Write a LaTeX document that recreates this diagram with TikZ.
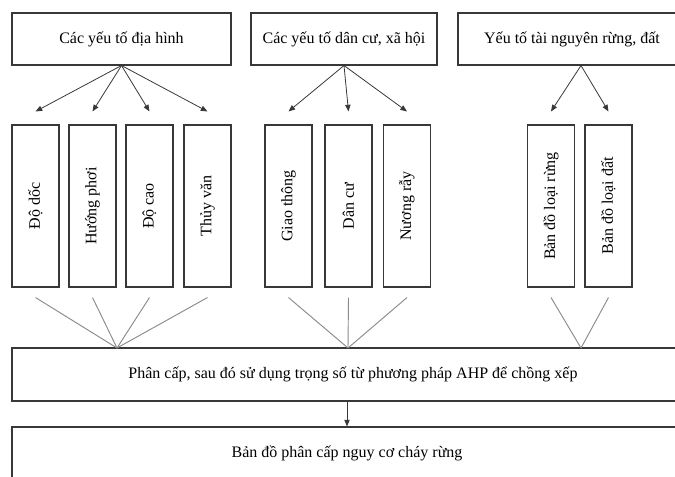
\documentclass[tikz,border=0pt]{standalone}
\usepackage{fontspec}
\setmainfont{Liberation Serif}
\usetikzlibrary{positioning, arrows.meta}
\definecolor{boxline}{HTML}{383838}
\definecolor{fanline}{HTML}{8A8A8A}
\newlength{\pxu}
\setlength{\pxu}{0.75pt}

\begin{document}
\begin{tikzpicture}[x=0.75pt, y=-0.75pt,
    box/.style={draw=boxline, line width=0.8pt, inner sep=0pt,
                font=\fontsize{12}{14}\selectfont},
    head/.style={box, minimum height=52\pxu},
    bar/.style={box, minimum width=47\pxu, minimum height=162\pxu},
    arr/.style={draw=boxline, line width=0.6pt, -{Triangle[length=5pt,width=4pt]}},
    fan/.style={draw=fanline, line width=0.7pt}]
    \clip (0,0) rectangle (675,477);

    \node[head, minimum width=219\pxu] (terrain) at (121.5,39) {Các yếu tố địa hình};
    \node[head, minimum width=186\pxu] (social) at (344,39) {Các yếu tố dân cư, xã hội};
    \node[head, minimum width=228\pxu] (resource) at (572,39) {Yếu tố tài nguyên rừng, đất};

    \node[bar] (slope) at (35.5,206) {\rotatebox{90}{Độ dốc}};
    \node[bar] (aspect) at (92.5,206) {\rotatebox{90}{Hướng phơi}};
    \node[bar] (elev) at (149.5,206) {\rotatebox{90}{Độ cao}};
    \node[bar] (hydro) at (207.5,206) {\rotatebox{90}{Thủy văn}};
    \node[bar] (road) at (288.5,206) {\rotatebox{90}{Giao thông}};
    \node[bar] (people) at (348.5,206) {\rotatebox{90}{Dân cư}};
    \node[bar] (field) at (407,206) {\rotatebox{90}{Nương rẫy}};
    \node[bar] (forest) at (551,206) {\rotatebox{90}{Bản đồ loại rừng}};
    \node[bar] (soil) at (608.5,206) {\rotatebox{90}{Bản đồ loại đất}};

    \node[box, minimum width=682\pxu, minimum height=53\pxu] (merge) at (353,374.5)
        {Phân cấp, sau đó sử dụng trọng số từ phương pháp AHP để chồng xếp};
    \node[box, minimum width=670\pxu, minimum height=53\pxu] (final) at (347,453.5)
        {Bản đồ phân cấp nguy cơ cháy rừng};

    \foreach \n in {slope, aspect, elev, hydro}
        \draw[arr] (terrain.south) -- ([yshift=9.75pt]\n.north);
    \foreach \n in {road, people, field}
        \draw[arr] (social.south) -- ([yshift=9.75pt]\n.north);
    \foreach \n in {forest, soil}
        \draw[arr] ([xshift=6.75pt]resource.south) -- ([yshift=9.75pt]\n.north);

    \coordinate (m1) at (117,348);
    \coordinate (m2) at (348,348);
    \coordinate (m3) at (581,348);
    \foreach \n in {slope, aspect, elev, hydro}
        \draw[fan] ([yshift=-7.5pt]\n.south) -- (m1);
    \foreach \n in {road, people, field}
        \draw[fan] ([yshift=-7.5pt]\n.south) -- (m2);
    \foreach \n in {forest, soil}
        \draw[fan] ([yshift=-7.5pt]\n.south) -- (m3);

    \draw[arr] (merge.south -| final.north) -- (final.north);
\end{tikzpicture}
\end{document}
